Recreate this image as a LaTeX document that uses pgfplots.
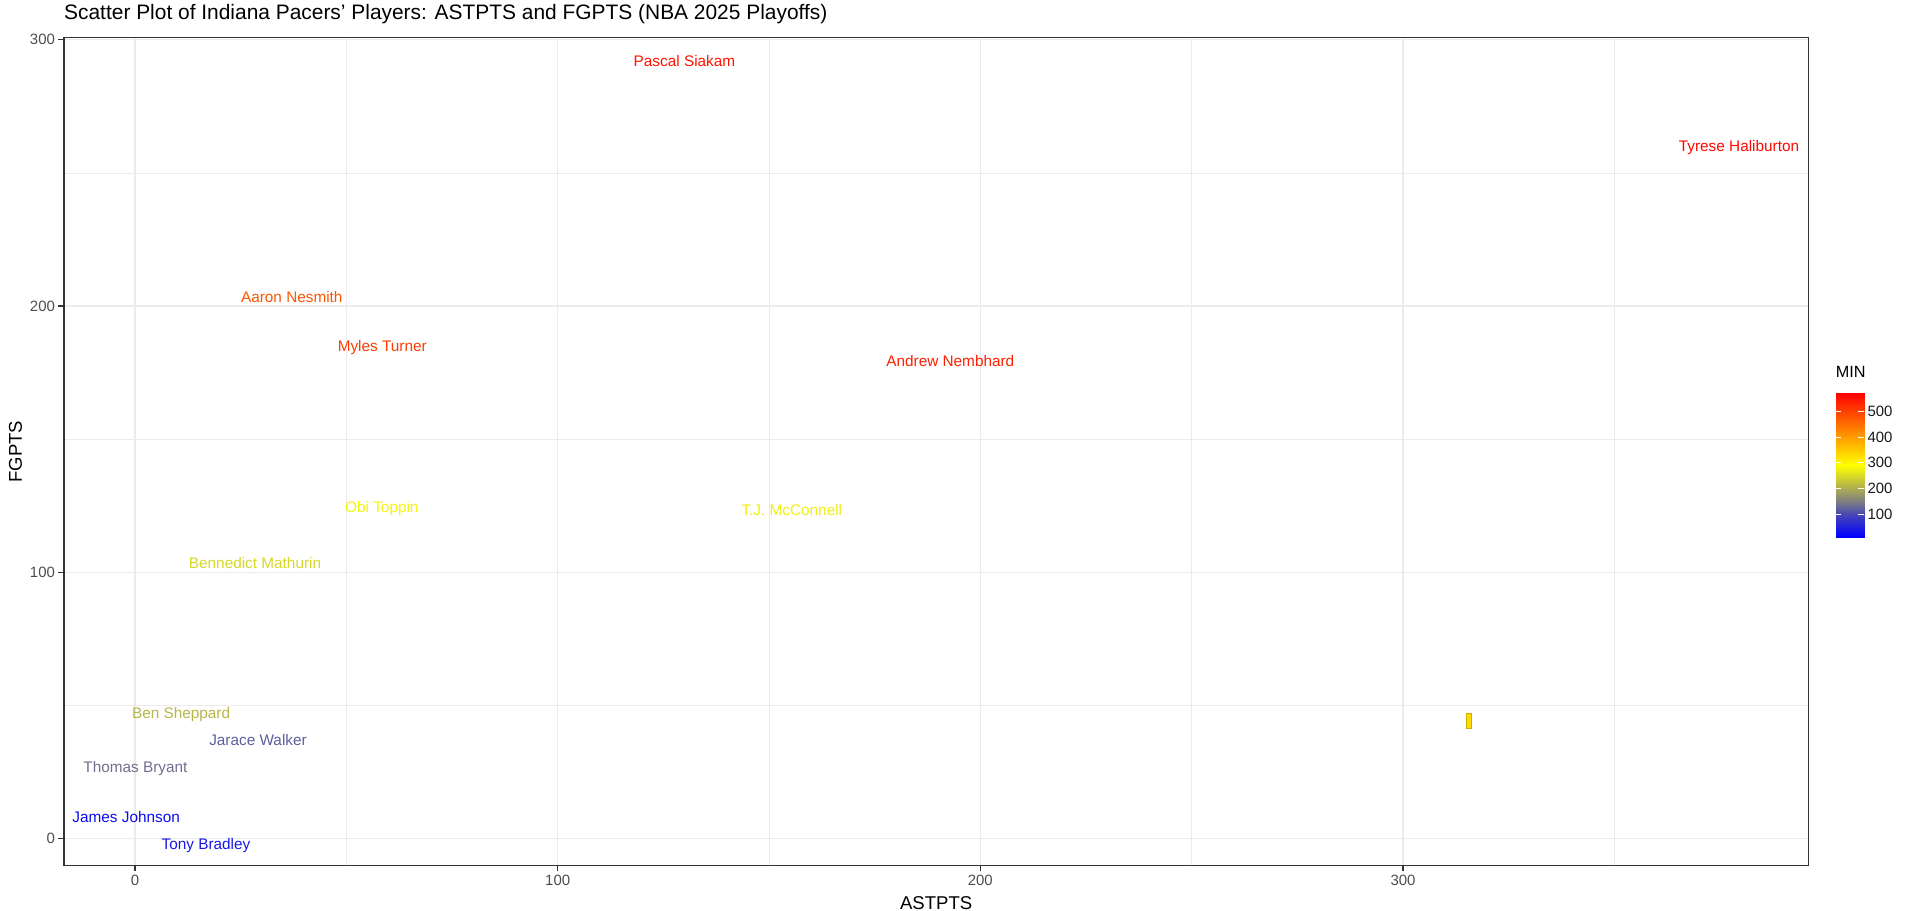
\documentclass[border=0pt]{standalone}
\usepackage{pgfplots}
\usepackage{pgfplotstable}
\pgfplotsset{compat=1.18}
\usepackage{fontspec}
\setmainfont{Liberation Sans}

\definecolor{grey20}{RGB}{51,51,51}
\definecolor{grey30}{RGB}{77,77,77}
\definecolor{grey92}{RGB}{235,235,235}

% blue - grey - yellow - red, positions in minutes
\pgfplotsset{colormap={ggmin}{rgb255(11pt)=(0,0,255) rgb255(100pt)=(72,72,180)
    rgb255(150pt)=(128,128,128) rgb255(290pt)=(255,255,0) rgb255(570pt)=(255,0,0)}}

\pgfplotstableread[col sep=comma]{
x,y,min,name
130.0,291.9,550,Pascal Siakam
379.5,260.0,562,Tyrese Haliburton
37.1,203.5,478,Aaron Nesmith
58.5,185.0,505,Myles Turner
192.9,179.3,535,Andrew Nembhard
58.4,124.4,280,Obi Toppin
155.4,123.4,272,T.J. McConnell
28.4,103.4,245,Bennedict Mathurin
10.9,47.3,210,Ben Sheppard
29.1,37.0,120,Jarace Walker
0.1,27.0,135,Thomas Bryant
-2.1,8.3,25,James Johnson
16.8,-2.0,40,Tony Bradley
}\players

\begin{document}
\begin{tikzpicture}
\useasboundingbox (0,0) rectangle (1910bp,911bp);
\begin{axis}[
    at={(64bp,45.3bp)}, anchor=south west,
    scale only axis,
    width=1744.3bp, height=828.2bp,
    xmin=-16.8, xmax=395.9,
    ymin=-10.1, ymax=300.8,
    xtick={0,100,200,300},
    ytick={0,100,200,300},
    minor xtick={50,150,250,350},
    minor ytick={50,150,250},
    grid=both,
    major grid style={grey92, line width=1.1bp},
    minor grid style={grey92, line width=0.6bp},
    axis line style={grey20, line width=1.5bp},
    tick align=outside, tick pos=left,
    major tick length=5.6bp, minor tick length=0pt,
    major tick style={grey20, line width=1.1bp},
    /pgf/number format/assume math mode=true,
    tick label style={font=\fontsize{15}{15}\selectfont, text=grey30},
    title={Scatter Plot of Indiana Pacers' Players: ASTPTS and FGPTS (NBA 2025 Playoffs)},
    title style={at={(axis description cs:0,1.01509)}, anchor=base west, inner sep=0pt,
        font=\fontsize{21}{21}\selectfont},
    xlabel={ASTPTS},
    xlabel style={at={(axis description cs:0.5,-0.05265)}, anchor=base, inner sep=0pt,
        font=\fontsize{18.6}{18.6}\selectfont},
    ylabel={FGPTS},
    ylabel style={at={(axis description cs:-0.0278,0.5)}, anchor=center, inner sep=0pt,
        font=\fontsize{18.6}{18.6}\selectfont},
    colormap name=ggmin,
    point meta min=11, point meta max=570,
]
% player names, coloured by minutes through the colormap
\addplot[only marks, mark=none,
    point meta=explicit symbolic,
    visualization depends on={\thisrow{min} \as \minval},
    nodes near coords={\pgfmathsetmacro\cmv{(\minval-11)/0.559}%
        \pgfplotscolormapdefinemappedcolor{\cmv}\textcolor{mapped color}{\pgfplotspointmeta}},
    every node near coord/.style={anchor=base, yshift=-5.5bp, inner sep=0pt,
        font=\fontsize{15.4}{15.4}\selectfont}]
    table[x=x, y=y, meta=name] {\players};
\addplot[scatter, only marks, mark=square*, mark size=2.35bp,
    mark options={yscale=3.2, line width=0.1bp},
    point meta=explicit]
    coordinates {(315.5,44.3) [330]};
\end{axis}

% legend: colour bar for MIN
\begin{axis}[
    at={(1835.7bp,517.7bp)}, anchor=north west,
    scale only axis,
    width=28.3bp, height=144bp,
    xmin=0, xmax=1, ymin=11, ymax=570,
    enlargelimits=false,
    axis on top,
    axis line style={draw=none},
    xtick=\empty,
    ytick={100,200,300,400,500},
    ytick pos=both, yticklabel pos=right,
    tick align=inside,
    major tick length=5.6bp,
    major tick style={white, line width=1bp},
    /pgf/number format/assume math mode=true,
    yticklabel style={font=\fontsize{15}{15}\selectfont, text=black!90},
    title={MIN},
    title style={at={(axis description cs:0,1)}, anchor=base west, inner sep=0pt,
        yshift=10.3bp, font=\fontsize{16.3}{16.3}\selectfont},
    colormap name=ggmin,
    point meta min=11, point meta max=570,
]
\addplot[patch, shader=interp, point meta=explicit]
    coordinates {
    (0,11) [11] (1,11) [11] (1,100) [100]
    (0,11) [11] (1,100) [100] (0,100) [100]
    (0,100) [100] (1,100) [100] (1,150) [150]
    (0,100) [100] (1,150) [150] (0,150) [150]
    (0,150) [150] (1,150) [150] (1,290) [290]
    (0,150) [150] (1,290) [290] (0,290) [290]
    (0,290) [290] (1,290) [290] (1,570) [570]
    (0,290) [290] (1,570) [570] (0,570) [570]
    };
\end{axis}
\end{tikzpicture}
\end{document}
